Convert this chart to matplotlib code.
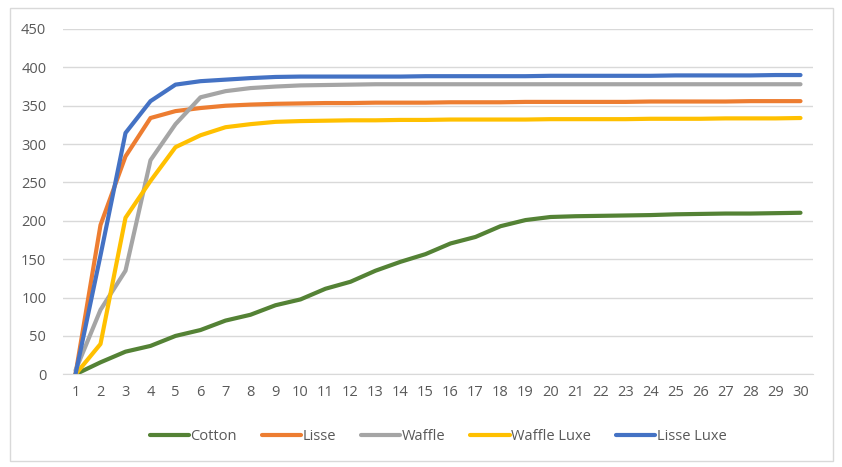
import matplotlib.pyplot as plt
from matplotlib.patches import Rectangle

days = list(range(1, 31))

cotton = [0, 15.6, 29.5, 37, 50, 57.7, 70, 77.6, 90, 97.6,
          111.5, 120.6, 135, 146.6, 156.6, 170.5, 179, 193, 201, 205,
          206, 206.5, 207, 207.5, 208.5, 209, 209.5, 209.5, 210, 210.5]
lisse = [0, 194.5, 284, 334, 343, 347, 350, 351.5, 352.5, 353,
         353.5, 353.5, 354, 354, 354, 354.5, 354.5, 354.5, 355, 355,
         355, 355, 355, 355.5, 355.5, 355.5, 355.5, 356, 356, 356]
waffle = [5, 84, 135, 279, 326, 361, 369, 373, 375, 376.5,
          377, 377.5, 378, 378, 378, 378, 378, 378, 378, 378,
          378, 378, 378, 378, 378, 378, 378, 378, 378, 378]
waffle_luxe = [0, 39.5, 204, 252, 296, 311.5, 322, 326, 329, 330,
               330.5, 331, 331, 331.5, 331.5, 332, 332, 332, 332, 332.5,
               332.5, 332.5, 332.5, 333, 333, 333, 333.5, 333.5, 333.5, 334]
lisse_luxe = [0, 155, 314.5, 356, 377.5, 382, 384, 386, 387.5, 388,
              388, 388, 388, 388, 388.5, 388.5, 388.5, 388.5, 388.5, 389,
              389, 389, 389, 389, 389.5, 389.5, 389.5, 389.5, 390, 390]

series = [("Cotton", cotton, "#548235"),
          ("Lisse", lisse, "#ED7D31"),
          ("Waffle", waffle, "#A5A5A5"),
          ("Waffle Luxe", waffle_luxe, "#FFC000"),
          ("Lisse Luxe", lisse_luxe, "#4472C4")]

plt.rcParams['font.family'] = ['Open Sans', 'DejaVu Sans']

fig = plt.figure(figsize=(8.42, 4.67), dpi=100)
fig.patches.append(Rectangle((10/842, 1 - 461/467), 823/842, 453/467,
                             transform=fig.transFigure, fill=False,
                             edgecolor="#D9D9D9", linewidth=1))
ax = fig.add_axes([63/842, 1 - 374.3/467, 750/842, 345.3/467])

for name, vals, col in series:
    ax.plot(days, vals, color=col, linewidth=3, label=name,
            solid_capstyle='round', solid_joinstyle='round')

ax.set_xlim(0.5, 30.5)
ax.set_ylim(0, 450)
ax.set_yticks(range(0, 451, 50))
ax.set_xticks(days)
ax.grid(axis='y', color="#D9D9D9", linewidth=1)
ax.set_axisbelow(True)
for s in ['top', 'right', 'left']:
    ax.spines[s].set_visible(False)
ax.spines['bottom'].set_color("#D9D9D9")
ax.tick_params(length=0, labelsize=10.5, labelcolor="#595959")
ax.tick_params(axis='y', pad=12)
ax.tick_params(axis='x', pad=8)

ax.legend(loc='upper center', bbox_to_anchor=(0.5, -0.12), ncol=5,
          frameon=False, fontsize=10.5, labelcolor="#595959",
          handlelength=2.7, handletextpad=0.1, columnspacing=1.7)

fig.savefig("out.png", dpi=100)
